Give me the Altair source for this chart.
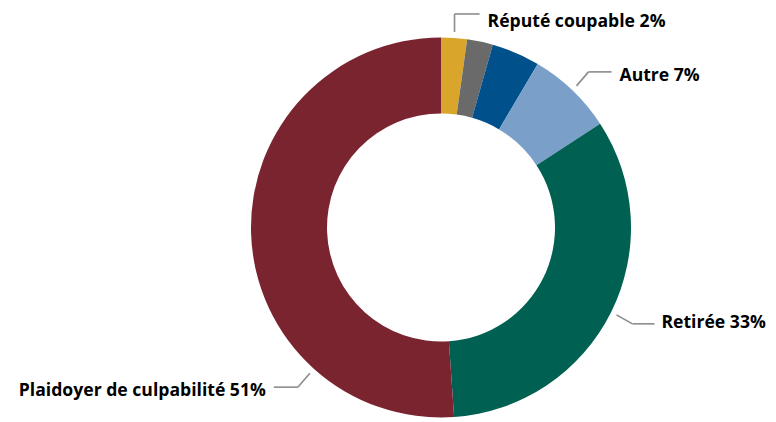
import math
import altair as alt
import pandas as pd

# ---- data ----
categories = ["Réputé coupable", "Autre A", "Autre B", "Autre", "Retirée", "Plaidoyer de culpabilité"]
values = [2.2, 2.2, 4.1, 7.3, 33.1, 51.1]
colors = ["#D9A62B", "#6A6A6A", "#00508B", "#7A9FC9", "#006152", "#7A2430"]
labels = ["Réputé coupable 2%", "", "", "Autre 7%", "Retirée 33%", "Plaidoyer de culpabilité 51%"]

# ---- layout ----
PAD_TOP = 6
W, H = 760, 408
CX, CY = 433, 227.5 - 8 - PAD_TOP
R_OUT, R_IN = 190, 114
R_LEAD = 196
# per labelled slice: (angle override or None, elbow dx, elbow dy, horizontal run, text gap, text baseline dy)
leader = {
    0: (None, 0, -18, 25, 8, 13),
    3: (None, 12, -14, 23, 8, 9),
    4: (None, 16, 9, 22, 7, 4.5),
    5: (222, -12, 14, -24, 8, 9),
}

total = sum(values)
df = pd.DataFrame({"cat": categories, "value": values, "idx": list(range(len(values)))})

segs, texts = [], []
cum = 0.0
for i, v in enumerate(values):
    mid = (cum + v / 2) / total * 360
    cum += v
    if i not in leader:
        continue
    ang, edx, edy, run, gap, tdy = leader[i]
    a = math.radians(ang if ang is not None else mid)
    sx, sy = CX + R_LEAD * math.sin(a), CY - R_LEAD * math.cos(a)
    ex, ey = sx + edx, sy + edy
    fx = ex + run
    segs.append({"x": sx, "y": sy, "x2": ex, "y2": ey})
    segs.append({"x": ex, "y": ey, "x2": fx, "y2": ey})
    texts.append({"x": fx + (gap if run > 0 else -gap), "y": ey + tdy,
                  "t": labels[i], "al": "left" if run > 0 else "right"})

seg_df = pd.DataFrame(segs)
txt_df = pd.DataFrame(texts)

xs = alt.Scale(domain=[0, W], range=[0, W])
ys = alt.Scale(domain=[0, H], range=[0, H])

arc = alt.Chart(df).mark_arc(radius=R_OUT, radius2=R_IN).encode(
    theta=alt.Theta("value:Q", stack=True),
    order=alt.Order("idx:Q"),
    color=alt.Color("cat:N", scale=alt.Scale(domain=categories, range=colors), legend=None),
    x=alt.value(CX),
    y=alt.value(CY),
)

rules = alt.Chart(seg_df).mark_rule(color="#8C8C8C", strokeWidth=1.6).encode(
    x=alt.X("x:Q", scale=xs, axis=None),
    y=alt.Y("y:Q", scale=ys, axis=None),
    x2="x2:Q",
    y2="y2:Q",
)


def label_layer(align):
    return alt.Chart(txt_df[txt_df.al == align]).mark_text(
        align=align, baseline="alphabetic", font="Open Sans", fontWeight="bold",
        fontSize=17.6, color="#000000"
    ).encode(
        x=alt.X("x:Q", scale=xs, axis=None),
        y=alt.Y("y:Q", scale=ys, axis=None),
        text="t:N",
    )


chart = alt.layer(arc, rules, label_layer("left"), label_layer("right")).properties(
    width=W, height=H,
    padding={"top": PAD_TOP, "left": 0, "right": 0, "bottom": 0},
    autosize=alt.AutoSizeParams(type="none"),
).configure_view(stroke=None)

chart.save("out.html", embed_options={"renderer": "svg", "actions": False})
